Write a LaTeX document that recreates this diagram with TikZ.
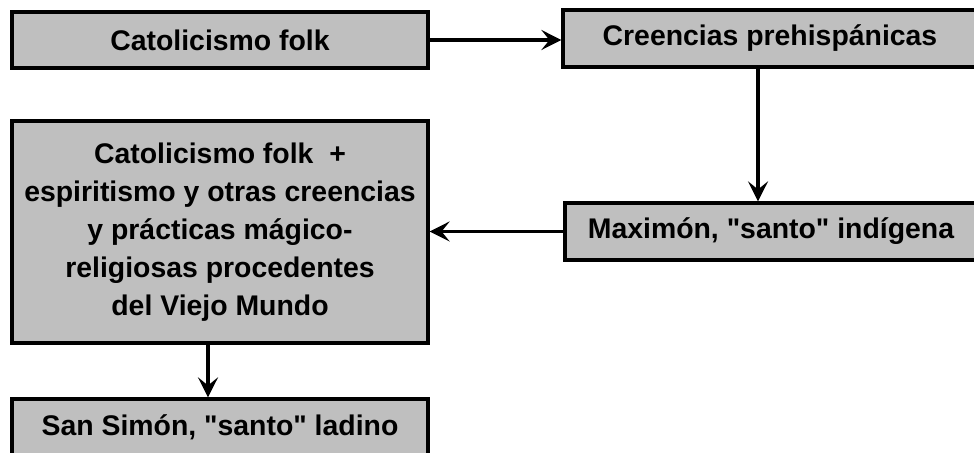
\documentclass[tikz,border=0pt]{standalone}
\usepackage{fontspec}
\setmainfont{Liberation Sans}
\usetikzlibrary{arrows.meta}
\begin{document}
\begin{tikzpicture}[x          = 0.5pt,
                    y          = -0.5pt,
                    line width = 1.6pt]
% style of boxes and arrows
\tikzset{boxstyle/.style={draw,fill=black!25,inner sep=0pt,align=center,
                          font=\bfseries\fontsize{14.2}{19}\selectfont},
         arrowstyle/.style={-{Stealth[length=10pt,width=10pt,inset=4pt]}}}
\useasboundingbox (0,0) rectangle (974,453);
% boxes "left"
\node[boxstyle,minimum width=208pt,minimum height=28pt] (folk)    at (220,40)    {Catolicismo folk};
\node[boxstyle,minimum width=208pt,minimum height=111pt] (mezcla) at (220,232)
  {Catolicismo folk\ \ +\\espiritismo y otras creencias\\y prácticas mágico-\\religiosas procedentes\\del Viejo Mundo};
\node[boxstyle,minimum width=208pt,minimum height=28pt] (ladino)  at (220,427)
  {San Simón, \textquotedbl santo\textquotedbl{} ladino};
% boxes "right"
\node[boxstyle,minimum width=207pt,minimum height=28.5pt] (prehisp) at (770,38.5) {Creencias prehispánicas};
\node[boxstyle,minimum width=206pt,minimum height=28.5pt] (maximon) at (771,231.5)
  {Maximón, \textquotedbl santo\textquotedbl{} indígena};
% arrows
\draw[arrowstyle] (folk.east) -- (folk.east -| prehisp.west);
\draw[arrowstyle] ([xshift=-6pt]prehisp.south) -- ([xshift=-6pt]prehisp.south |- maximon.north);
\draw[arrowstyle] (maximon.west) -- (maximon.west -| mezcla.east);
\draw[arrowstyle] ([xshift=-6pt]mezcla.south) -- ([xshift=-6pt]mezcla.south |- ladino.north);
\end{tikzpicture}
\end{document}
